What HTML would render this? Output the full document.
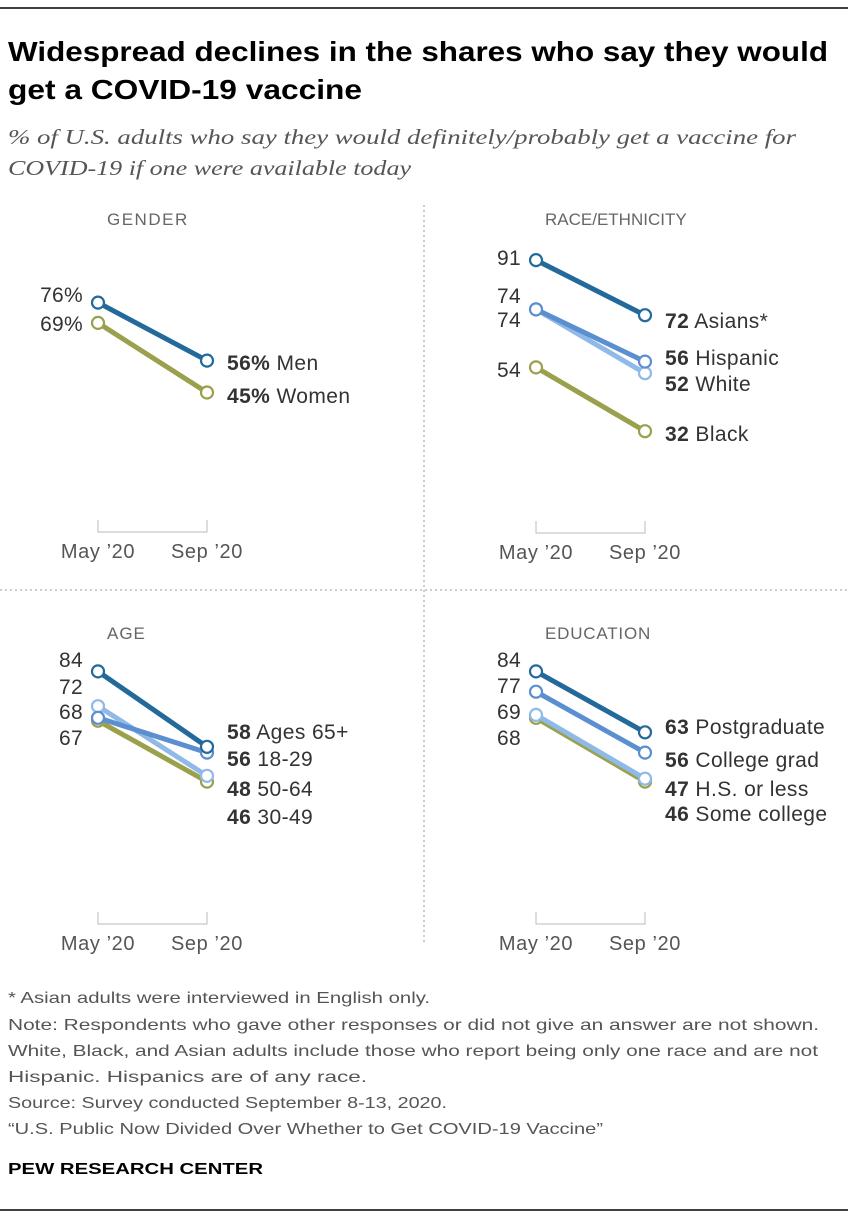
<!DOCTYPE html>
<html><head><meta charset="utf-8"><style>
body{margin:0;background:#fff;}
svg text{font-family:"Liberation Sans",sans-serif;}
</style></head><body>
<svg width="848" height="1220" xmlns="http://www.w3.org/2000/svg" id="chart">
<line x1="0" y1="8" x2="848" y2="8" stroke="#000" stroke-width="1.5"/>
<text x="8" y="61" font-size="28" font-weight="bold" fill="#000" textLength="820" lengthAdjust="spacingAndGlyphs">Widespread declines in the shares who say they would</text>
<text x="8" y="99" font-size="28" font-weight="bold" fill="#000" textLength="354" lengthAdjust="spacingAndGlyphs">get a COVID-19 vaccine</text>
<text x="8" y="144" font-size="21" font-style="italic" fill="#555" textLength="788" lengthAdjust="spacingAndGlyphs" style="font-family:'Liberation Serif',serif">% of U.S. adults who say they would definitely/probably get a vaccine for</text>
<text x="8" y="175" font-size="21" font-style="italic" fill="#555" textLength="403" lengthAdjust="spacingAndGlyphs" style="font-family:'Liberation Serif',serif">COVID-19 if one were available today</text>
<line x1="424" y1="205" x2="424" y2="945" stroke="#999" stroke-dasharray="2,3"/>
<line x1="0" y1="590" x2="848" y2="590" stroke="#999" stroke-dasharray="2,3"/>
<g id="panels"></g>
<g font-size="16" fill="#555" lengthAdjust="spacingAndGlyphs">
<text x="8" y="1003" textLength="422" lengthAdjust="spacingAndGlyphs">* Asian adults were interviewed in English only.</text>
<text x="8" y="1030" textLength="811" lengthAdjust="spacingAndGlyphs">Note: Respondents who gave other responses or did not give an answer are not shown.</text>
<text x="8" y="1056" textLength="810" lengthAdjust="spacingAndGlyphs">White, Black, and Asian adults include those who report being only one race and are not</text>
<text x="8" y="1082" textLength="359" lengthAdjust="spacingAndGlyphs">Hispanic. Hispanics are of any race.</text>
<text x="8" y="1108" textLength="439" lengthAdjust="spacingAndGlyphs">Source: Survey conducted September 8-13, 2020.</text>
<text x="8" y="1134" textLength="595" lengthAdjust="spacingAndGlyphs">“U.S. Public Now Divided Over Whether to Get COVID-19 Vaccine”</text>
</g>
<text x="8" y="1174" font-size="16" font-weight="bold" fill="#000" textLength="255" lengthAdjust="spacingAndGlyphs">PEW RESEARCH CENTER</text>
<line x1="0" y1="1210" x2="848" y2="1210" stroke="#000" stroke-width="1.5"/>
</svg>
<script>
const C={dark:"#236a9b",med:"#5b8fd0",light:"#8fbae8",olive:"#9aa04b"};
const genderNames=["Men","Women"];
const genderMay=[76,69];
const genderSep=[56,45];
const raceNames=["Asians*","Hispanic","White","Black"];
const raceMay=[91,74,74,54];
const raceSep=[72,56,52,32];
const ageNames=["Ages 65+","18-29","50-64","30-49"];
const ageMay=[84,68,72,67];
const ageSep=[58,56,48,46];
const eduNames=["Postgraduate","College grad","H.S. or less","Some college"];
const eduMay=[84,77,69,68];
const eduSep=[63,56,47,46];
const xLabels=["May \u201920","Sep \u201920"];
const NS="http://www.w3.org/2000/svg";
const root=document.getElementById('panels');
function mk(tag,attrs,parent,text){const e=document.createElementNS(NS,tag);for(const k in attrs)e.setAttribute(k,attrs[k]);if(text!==undefined)e.textContent=text;parent.appendChild(e);return e;}
function panel(o){
  const g=mk('g',{},root);
  
  
  const y=v=>o.base-v*2.9;
  const x0=o.x, x1=o.x+109;
  const h=mk('text',{x:o.x+9,y:o.hy,'font-size':17,fill:'#666','letter-spacing':o.ls},g,o.title);
  
  
  const ax=mk('path',{d:`M${x0},${o.base-3}V${o.base+9}H${x1}V${o.base-3}`,fill:'none',stroke:'#bbb','stroke-width':1},g);
  
  
  xLabels.forEach((t,i)=>{
    const l=mk('text',{x:i?x1:x0,y:o.base+35,'font-size':20,fill:'#555','text-anchor':'middle','letter-spacing':0.6},g,t);
    
    
  });
  const order=o.names.map((_,i)=>i).reverse();
  order.forEach(i=>{
    const ln=mk('line',{x1:x0,y1:y(o.may[i]),x2:x1,y2:y(o.sep[i]),stroke:o.colors[i],'stroke-width':5},g);
    
    
    [[x0,o.may[i]],[x1,o.sep[i]]].forEach(p=>{
      const c=mk('circle',{cx:p[0],cy:y(p[1]),r:6,fill:'#fff',stroke:o.colors[i],'stroke-width':2.2},g);
      
      
    });
  });
  o.names.forEach((n,i)=>{
    const l=mk('text',{x:x0-15,y:o.ly[i]+7,'font-size':21,fill:'#333','text-anchor':'end','letter-spacing':0.3},g,o.may[i]+o.pct);
    
    
    const r=mk('text',{x:x1+20,y:o.ry[i]+7,'font-size':21,fill:'#333','letter-spacing':0.4},g);
    
    
    mk('tspan',{'font-weight':'bold'},r,o.sep[i]+o.pct);
    mk('tspan',{},r,' '+n);
  });
}
panel({key:'gender',title:'GENDER',x:98,base:523,hy:225,ls:1.5,names:genderNames,may:genderMay,sep:genderSep,colors:[C.dark,C.olive],pct:'%',ly:[295,324],ry:[363,396]});
panel({key:'race',title:'RACE/ETHNICITY',x:536,base:524,hy:225,ls:0,names:raceNames,may:raceMay,sep:raceSep,colors:[C.dark,C.med,C.light,C.olive],pct:'',ly:[258,296,320,370],ry:[321,358,384,434]});
panel({key:'age',title:'AGE',x:98,base:915,hy:639,ls:1,names:ageNames,may:ageMay,sep:ageSep,colors:[C.dark,C.med,C.light,C.olive],pct:'',ly:[660,712,687,738],ry:[732,759,789,817]});
panel({key:'education',title:'EDUCATION',x:536,base:915,hy:639,ls:0.8,names:eduNames,may:eduMay,sep:eduSep,colors:[C.dark,C.med,C.light,C.olive],pct:'',ly:[660,686,712,738],ry:[727,760,789,814]});
</script>
</body></html>
